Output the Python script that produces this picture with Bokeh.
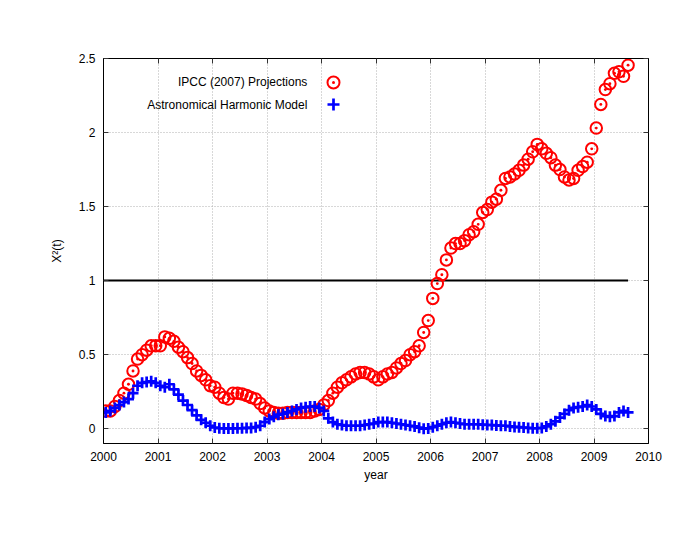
import numpy as np
from bokeh.plotting import figure
from bokeh.models import (Range1d, FixedTicker, CustomJSTickFormatter, LinearAxis,
                          Legend, LegendItem, Label)
from bokeh.embed import file_html
from bokeh.resources import INLINE

# ---- data (monthly, Jan 2000 .. Aug 2009) ----
start_year = 2000
ipcc = [0.12, 0.12, 0.15, 0.19, 0.24, 0.30, 0.39, 0.47, 0.50, 0.53, 0.56, 0.56,
        0.56, 0.62, 0.61, 0.59, 0.55, 0.52, 0.48, 0.44, 0.39, 0.36, 0.33, 0.29,
        0.28, 0.24, 0.21, 0.20, 0.24, 0.24, 0.235, 0.225, 0.21, 0.20, 0.17, 0.14,
        0.12, 0.11, 0.105, 0.105, 0.11, 0.11, 0.11, 0.11, 0.11, 0.11, 0.12, 0.13,
        0.16, 0.19, 0.24, 0.28, 0.31, 0.33, 0.35, 0.37, 0.38, 0.38, 0.37, 0.35,
        0.33, 0.35, 0.37, 0.38, 0.41, 0.44, 0.46, 0.50, 0.52, 0.56, 0.65, 0.73,
        0.88, 0.98, 1.04, 1.14, 1.22, 1.25, 1.25, 1.27, 1.31, 1.33, 1.38, 1.46,
        1.48, 1.53, 1.55, 1.61, 1.69, 1.70, 1.72, 1.745, 1.78, 1.82, 1.87, 1.92,
        1.89, 1.86, 1.83, 1.78, 1.75, 1.70, 1.68, 1.69, 1.745, 1.77, 1.80, 1.89,
        2.03, 2.19, 2.29, 2.33, 2.40, 2.41, 2.38, 2.455]
harmonic = [0.11, 0.12, 0.14, 0.16, 0.18, 0.20, 0.24, 0.29, 0.31, 0.315, 0.32, 0.31,
            0.29, 0.28, 0.30, 0.265, 0.23, 0.19, 0.16, 0.125, 0.09, 0.06, 0.04, 0.02,
            0.008, 0.003, 0.002, 0.002, 0.002, 0.003, 0.003, 0.005, 0.005, 0.01, 0.02, 0.045,
            0.065, 0.08, 0.095, 0.10, 0.11, 0.12, 0.13, 0.14, 0.145, 0.15, 0.15, 0.14,
            0.12, 0.07, 0.045, 0.03, 0.025, 0.02, 0.02, 0.02, 0.02, 0.025, 0.03, 0.035,
            0.045, 0.045, 0.045, 0.04, 0.035, 0.03, 0.025, 0.02, 0.015, 0.007, 0.0, 0.002,
            0.01, 0.02, 0.03, 0.04, 0.045, 0.04, 0.035, 0.03, 0.03, 0.03, 0.03, 0.027,
            0.025, 0.025, 0.022, 0.02, 0.02, 0.015, 0.012, 0.01, 0.008, 0.005, 0.003, 0.003,
            0.005, 0.015, 0.03, 0.05, 0.075, 0.10, 0.125, 0.14, 0.145, 0.15, 0.16, 0.15,
            0.13, 0.10, 0.085, 0.08, 0.085, 0.11, 0.12, 0.11]
threshold = 1.0
x_ticks = [2000, 2001, 2002, 2003, 2004, 2005, 2006, 2007, 2008, 2009, 2010]
y_ticks = [0, 0.5, 1, 1.5, 2, 2.5]
series_names = ["IPCC (2007) Projections", "Astronomical Harmonic Model"]

t = start_year + (np.arange(len(ipcc)) + 0.5) / 12.0

FONT = "Liberation Sans"

p = figure(frame_width=545, frame_height=385,
           x_range=Range1d(2000, 2010), y_range=Range1d(-0.1, 2.5),
           output_backend="svg", toolbar_location=None,
           min_border_left=103, min_border_right=32,
           min_border_top=58, min_border_bottom=82,
           background_fill_color="white", border_fill_color="white")
p.outline_line_color = "black"
p.outline_line_width = 1

fmt = CustomJSTickFormatter(code="return tick.toString();")
blank = CustomJSTickFormatter(code="return '';")

for ax, ticks in ((p.xaxis[0], x_ticks), (p.yaxis[0], y_ticks)):
    ax.ticker = FixedTicker(ticks=ticks)
    ax.formatter = fmt
    ax.major_tick_in = 5
    ax.major_tick_out = 0
    ax.minor_tick_in = 0
    ax.minor_tick_out = 0
    ax.major_label_text_font = FONT
    ax.major_label_text_font_size = "12px"
    ax.major_label_text_color = "black"
    ax.axis_label_text_font = FONT
    ax.axis_label_text_font_size = "12px"
    ax.axis_label_text_font_style = "normal"
    ax.axis_label_text_color = "black"
    ax.axis_line_color = "black"
    ax.major_tick_line_color = "#333333"

p.xaxis.axis_label = "year"
p.xaxis.major_label_standoff = 8
p.xaxis.axis_label_standoff = 4
p.yaxis.axis_label = "X\u00b2(t)"
p.yaxis.major_label_standoff = 8
p.yaxis.axis_label_standoff = 12

# mirrored ticks on top and right
top = LinearAxis(ticker=FixedTicker(ticks=x_ticks), formatter=blank,
                 major_tick_in=5, major_tick_out=0, minor_tick_in=0, minor_tick_out=0,
                 major_label_standoff=0, axis_line_color="black",
                 major_tick_line_color="#333333")
right = LinearAxis(ticker=FixedTicker(ticks=y_ticks), formatter=blank,
                   major_tick_in=5, major_tick_out=0, minor_tick_in=0, minor_tick_out=0,
                   major_label_standoff=0, axis_line_color="black",
                   major_tick_line_color="#333333")
p.add_layout(top, "above")
p.add_layout(right, "right")

p.xgrid.ticker = FixedTicker(ticks=x_ticks)
p.ygrid.ticker = FixedTicker(ticks=y_ticks)
for g in (p.xgrid[0], p.ygrid[0]):
    g.grid_line_color = "#b0b0b0"
    g.grid_line_dash = "1 2"
    g.grid_line_width = 1

# threshold line
p.line(x=[start_year, t[-1]], y=[threshold, threshold], line_color="black", line_width=2)

r_red = p.scatter(t, ipcc, marker="circle_dot", size=11.5, fill_color=None,
                  line_color="#ff0000", line_width=2)
r_blue = p.scatter(t, harmonic, marker="cross", size=11,
                   line_color="#0000ff", line_width=2.7)

# key: text right-aligned, marker to the right (gnuplot style)
for name, rend, ypix in ((series_names[0], r_red, 361.3), (series_names[1], r_blue, 338.8)):
    lg = Legend(items=[LegendItem(label=" ", renderers=[rend])],
                location=(229.7 - 15, ypix - 15),
                glyph_width=30, glyph_height=30, label_height=30, label_width=0,
                label_standoff=0, padding=0, margin=0, spacing=0,
                border_line_color=None, background_fill_alpha=0,
                label_text_font_size="1px")
    p.add_layout(lg)
    lab = Label(x=2003.74, y=2.5 - (385 - ypix) / 148.08, text=name,
                text_align="right", text_baseline="middle",
                text_font=FONT, text_font_size="12px", text_color="black")
    p.add_layout(lab)

open("out.html", "w").write(file_html(p, INLINE))
